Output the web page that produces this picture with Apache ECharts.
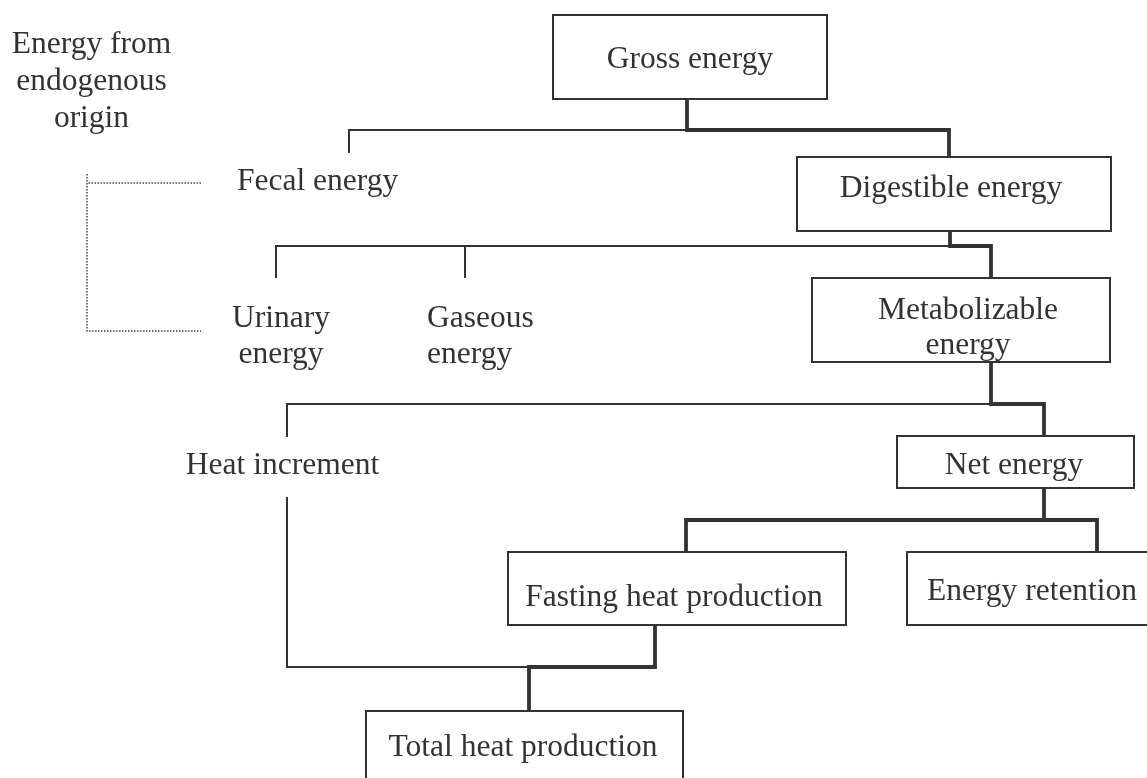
<!DOCTYPE html>
<html>
<head>
<meta charset="utf-8">
<script src="https://cdn.jsdelivr.net/npm/echarts@6/dist/echarts.min.js"></script>
<style>
html,body{margin:0;padding:0;background:#fff;}
#chart{width:1147px;height:778px;}
</style>
</head>
<body>
<div id="chart"></div>
<script>
// ---- diagram data (in diagram units, mapped through hidden axes) ----
const boxLabels = ['Gross energy', 'Digestible energy', 'Metabolizable\nenergy', 'Net energy',
                   'Fasting heat production', 'Energy retention', 'Total heat production'];
const boxLeft   = [553, 797, 812, 897, 508, 907, 366];
const boxRight  = [827, 1111, 1110, 1134, 846, 1170, 683];
const boxTop    = [15, 157, 278, 436, 552, 552, 711];
const boxBottom = [99, 231, 362, 488, 625, 625, 800];
const boxTextX  = [690, 951, 968, 1014, 674, 1032, 523];
const boxTextBase = [65, 194, 316, 471, 603, 597, 753];

const freeLabels = ['Energy from\nendogenous\norigin', 'Fecal energy', 'Urinary\nenergy', 'Gaseous\nenergy', 'Heat increment'];
const freeX      = [91.5, 237, 281, 427, 282.5];
const freeBase   = [50, 187, 324, 324, 471];
const freeAlign  = ['center', 'left', 'center', 'left', 'center'];

const thinPaths = [
  [[349,152],[349,130],[687,130]],
  [[276,277],[276,246],[950,246]],
  [[465,246],[465,277]],
  [[287,436],[287,404],[991,404]],
  [[287,498],[287,667],[529,667]]
];
const thickPaths = [
  [[687,99],[687,130],[949,130],[949,157]],
  [[950,231],[950,246],[991,246],[991,278]],
  [[991,362],[991,404],[1044,404],[1044,436]],
  [[1044,488],[1044,520],[686,520],[686,552]],
  [[1044,520],[1097,520],[1097,552]],
  [[655,625],[655,667],[529,667],[529,711]]
];
const dottedPaths = [
  [[201,183],[87,183]],
  [[87,174],[87,331],[201,331]]
];

// ---- rendering ----
const FONT_SIZE = 31.5;
const FONT = FONT_SIZE + 'px "Liberation Serif", "Times New Roman", serif';
const INK = '#333333';
const MID = 0.34 * FONT_SIZE - 5;

function textItem(text, x, base, align, lh) {
  return [x, base, lh, text, align];
}

const boxData = boxLabels.map((_, i) => [boxLeft[i], boxTop[i], boxRight[i], boxBottom[i]]);
const textData = [];
boxLabels.forEach((t, i) => textData.push(textItem(t, boxTextX[i], boxTextBase[i], 'center', 35)));
freeLabels.forEach((t, i) => textData.push(textItem(t, freeX[i], freeBase[i], freeAlign[i], i === 0 ? 37 : 36)));

const chart = echarts.init(document.getElementById('chart'), null, {renderer: 'canvas'});
chart.setOption({
  animation: false,
  backgroundColor: '#ffffff',
  grid: {left: 0, right: 0, top: 0, bottom: 0},
  xAxis: {type: 'value', min: 0, max: 1147, show: false},
  yAxis: {type: 'value', min: 0, max: 778, inverse: true, show: false},
  series: [
    {
      type: 'lines', coordinateSystem: 'cartesian2d', polyline: true, silent: true, z: 1,
      data: thinPaths.map(p => ({coords: p})),
      lineStyle: {color: INK, width: 2, opacity: 1, cap: 'square', join: 'miter'}
    },
    {
      type: 'lines', coordinateSystem: 'cartesian2d', polyline: true, silent: true, z: 2,
      data: thickPaths.map(p => ({coords: p})),
      lineStyle: {color: INK, width: 3.8, opacity: 1, cap: 'square', join: 'miter'}
    },
    {
      type: 'lines', coordinateSystem: 'cartesian2d', polyline: true, silent: true, z: 1,
      data: dottedPaths.map(p => ({coords: p})),
      lineStyle: {color: '#444444', width: 1.5, opacity: 1, type: [1.5, 1.5]}
    },
    {
      type: 'custom', silent: true, z: 3,
      data: boxData,
      renderItem: function (params, api) {
        const p1 = api.coord([api.value(0), api.value(1)]);
        const p2 = api.coord([api.value(2), api.value(3)]);
        return {
          type: 'rect',
          shape: {x: p1[0], y: p1[1], width: p2[0] - p1[0], height: p2[1] - p1[1]},
          style: {fill: '#ffffff', stroke: INK, lineWidth: 2}
        };
      }
    },
    {
      type: 'custom', silent: true, z: 4,
      data: textData,
      renderItem: function (params, api) {
        const d = textData[params.dataIndex];
        const p = api.coord([d[0], d[1]]);
        const lh = d[2];
        return {
          type: 'text',
          x: p[0],
          y: p[1] - MID - lh / 2,
          style: {
            text: d[3], font: FONT, fill: INK,
            align: d[4], verticalAlign: 'top', lineHeight: lh
          }
        };
      }
    }
  ]
});
</script>
</body>
</html>
